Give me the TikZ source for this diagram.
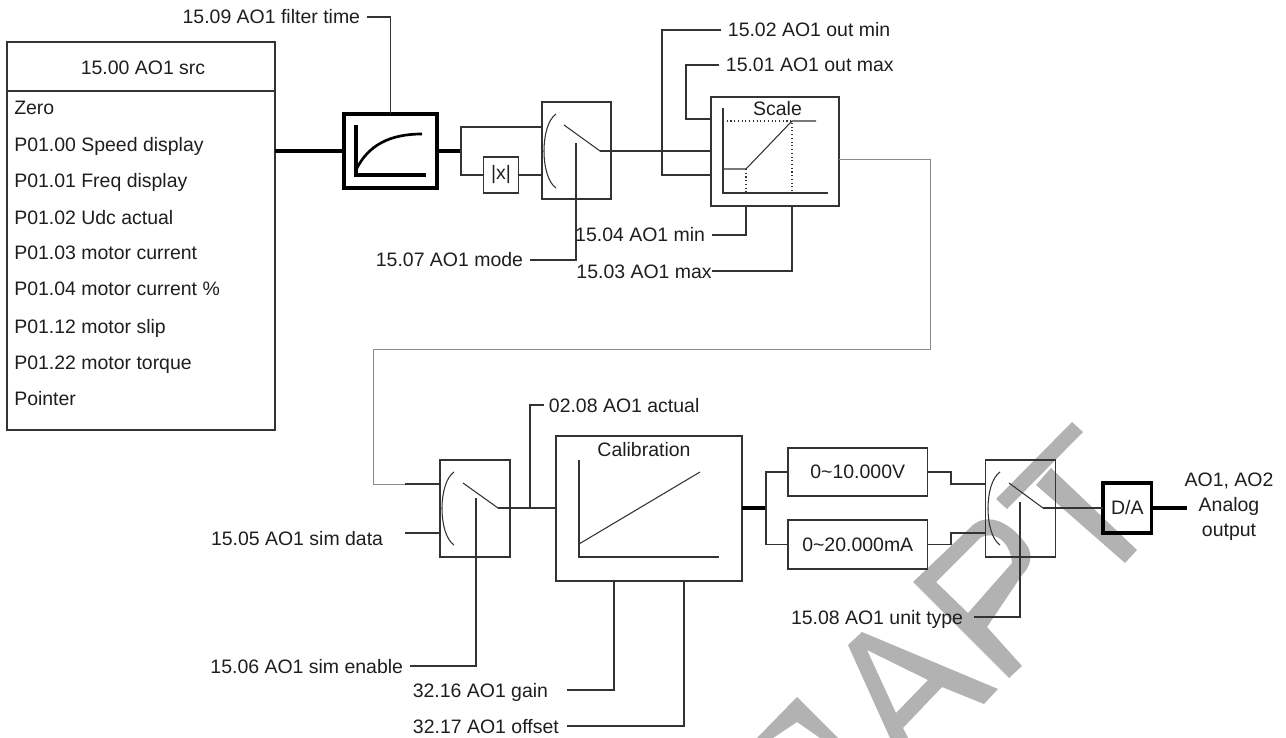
\documentclass[tikz,border=0pt]{standalone}
\usepackage{fontspec}
\setmainfont{Liberation Sans}
\usetikzlibrary{positioning,calc}
\definecolor{Ink}{HTML}{333333}
\definecolor{Type}{HTML}{1E1E1E}
\definecolor{Feed}{HTML}{8A8A8A}
\definecolor{Stamp}{HTML}{B2B2B2}
\newcommand{\labelfont}{\fontsize{14.6}{18.75}\selectfont}
\tikzset{
  box/.style={draw=Ink,line width=.9pt,inner sep=0pt,outer sep=0pt,text=Type,font=\labelfont},
  heavy/.style={draw=black,line width=2.3pt,inner sep=0pt,outer sep=0pt,text=Type,font=\labelfont},
  sig/.style={draw=Ink,line width=.8pt},
  bus/.style={draw=black,line width=2.3pt},
  feed/.style={draw=Feed,line width=.6pt},
  lbl/.style={font=\labelfont,text=Type,inner ysep=0pt,inner xsep=5pt,text height=10.5pt,text depth=0pt},
  item/.style={lbl,inner xsep=0pt,anchor=west},
  stamp/.style={fill=Stamp,even odd rule},
}
\begin{document}
\begin{tikzpicture}[x=.75pt,y=-.75pt]
\useasboundingbox (0,0) rectangle (1286,738);
% watermark
\fill[stamp] (1072,422)--(1083,432)--(1007,509)--(996,499)--cycle;
\fill[stamp] (1051,468)--(1137,550)--(1125,563)--(1036,485)--cycle;
\fill[stamp] (913,582)--(973,525) .. controls (987,513) and (1010,520) .. (1028,547) .. controls (1033,557) and (1030,567) .. (1022,575)--(987,627)--(1022,666)--(1009,678)--cycle
  (936,582)--(980,538) .. controls (993,530) and (1010,540) .. (1012,563)--(968,613)--cycle;
\fill[stamp] (848,645)--(890,738)--(908,738)--(903,728)--(942,687)--(984,704)--(998,689)--(862,632)--cycle
  (867,650)--(928,680)--(896,713)--cycle;
\fill[stamp] (757,738)--(797,697)--(838,738)--(820,738)--(797,722)--(773,738)--cycle;

% source list
\node[box,line width=1.1pt,minimum width=201pt,minimum height=291pt] (src) at (141,236) {};
\node[item,anchor=center] (srcTitle) at (143,68) {15.00 AO1 src};
\coordinate (srcRule) at (7,91);
\draw[sig] (srcRule) -- (src.east |- srcRule);
\node[item] (i0) at (14,108) {Zero};
\node[item] (i1) at (14,145) {P01.00 Speed display};
\node[item] (i2) at (14,181) {P01.01 Freq display};
\node[item] (i3) at (14,217) {P01.02 Udc actual};
\node[item] (i4) at (14,253) {P01.03 motor current};
\node[item] (i5) at (14,289) {P01.04 motor current \%};
\node[item] (i6) at (14,326) {P01.12 motor slip};
\node[item] (i7) at (14,362) {P01.22 motor torque};
\node[item] (i8) at (14,398) {Pointer};

% filter and selector
\node[heavy,minimum width=69.75pt,minimum height=55.5pt] (filt) at (390.5,151) {};
\draw[bus] (356,125) -- (356,175) -- (426,175);
\draw[line width=2pt] (356,170) .. controls (368,145) and (390,134) .. (422,134);
\node[box,minimum width=26.6pt,minimum height=27pt] (abs) at (501,175) {|x|};
\node[box,minimum width=51.75pt,minimum height=72.75pt] (swA) at (576.5,150.5) {};
\coordinate (forkA) at (461,151);
\coordinate (swAtop) at (542,127);
\coordinate (swAout) at (600,151);
\coordinate (swApin) at (576,143);
\draw[bus] (src.east |- filt.west) -- (filt.west);
\draw[bus] (filt.east) -- (forkA);
\draw[sig] (forkA) |- (swAtop);
\draw[sig] (forkA) |- (abs.west);
\draw[sig] (abs.east) -- (swA.west |- abs.east);
\draw[sig] (556,114) .. controls (540,125) and (540,177) .. (556,188);
\draw[sig] (564,125) -- (swAout);
\node[lbl,anchor=east] (lblTime) at (367,17) {15.09 AO1 filter time};
\draw[sig] (lblTime.east) -| (filt.north);
\node[lbl,anchor=east] (lblMode) at (530,260) {15.07 AO1 mode};
\draw[sig] (lblMode.east) -| (swApin);

% scale
\node[box,minimum width=96pt,minimum height=81.75pt] (scale) at (775,151.5) {};
\node[lbl,inner xsep=0pt] (scaleTitle) at (777.5,109) {Scale};
\draw[sig] (723,108) -- (723,193) -- (828,193);
\draw[sig] (723,169) -- (746,169) -- (792,121) -- (816,121);
\draw[sig,dotted] (723,121) -- (792,121) -- (792,193);
\draw[sig,dotted] (746,169) -- (746,193);
\coordinate (inMin) at (662,175);
\coordinate (inMax) at (686,119);
\coordinate (pinMin) at (746,206);
\coordinate (pinMax) at (792,206);
\draw[sig] (swAout) -- (scale.west |- swAout);
\node[lbl,anchor=west] (lblOutMin) at (721,30) {15.02 AO1 out min};
\node[lbl,anchor=west] (lblOutMax) at (719,65) {15.01 AO1 out max};
\draw[sig] (lblOutMin.west) -| (inMin) -- (scale.west |- inMin);
\draw[sig] (lblOutMax.west) -| (inMax) -- (scale.west |- inMax);
\node[lbl,anchor=east] (lblMin) at (712,235) {15.04 AO1 min};
\node[lbl,anchor=east,inner xsep=0pt] (lblMax) at (712,271) {15.03 AO1 max};
\draw[sig] (lblMin.east) -| (pinMin);
\draw[sig] (lblMax.east) -| (pinMax);

% simulation selector
\node[box,minimum width=52.5pt,minimum height=72.75pt] (swB) at (475,508.5) {};
\coordinate (scaleOut) at (839,159);
\coordinate (feedA) at (930,349);
\coordinate (feedB) at (373,484);
\coordinate (feedC) at (405,484);
\coordinate (inSim) at (405,533);
\coordinate (swBout) at (498,508);
\coordinate (swBpin) at (476,498);
\coordinate (tapAct) at (530,508);
\draw[feed] (scaleOut) -| (feedA) -| (feedB) -- (feedC);
\draw[sig] (feedC) -- (swB.west |- feedC);
\draw[sig] (inSim) -- (swB.west |- inSim);
\draw[sig] (454,472) .. controls (438,483) and (438,534) .. (454,545);
\draw[sig] (463,483) -- (swBout);
\node[lbl,anchor=east] (lblSim) at (390,538) {15.05 AO1 sim data};
\node[lbl,anchor=east] (lblEn) at (410,666) {15.06 AO1 sim enable};
\draw[sig] (lblEn.east) -| (swBpin);
\node[lbl,anchor=west,inner xsep=3.5pt] (lblAct) at (544,405) {02.08 AO1 actual};
\draw[sig] (tapAct) |- (lblAct.west);

% calibration
\node[box,minimum width=139.5pt,minimum height=108.75pt] (calib) at (649,508.5) {};
\node[lbl,inner xsep=0pt] (calibTitle) at (644,449) {Calibration};
\draw[sig] (579,460) -- (579,557) -- (719,557);
\draw[sig] (579,544) -- (700,472);
\draw[sig] (swBout) -- (calib.west |- swBout);
\coordinate (pinGain) at (614,581);
\coordinate (pinOff) at (684,581);
\node[lbl,anchor=east,inner xsep=14pt] (lblGain) at (567,690) {32.16 AO1 gain};
\node[lbl,anchor=east,inner xsep=6pt] (lblOff) at (567,726) {32.17 AO1 offset};
\draw[sig] (lblGain.east) -| (pinGain);
\draw[sig] (lblOff.east) -| (pinOff);

% output selection
\node[box,minimum width=104.6pt,minimum height=36pt] (volt) at (857.75,472) {0\textasciitilde10.000V};
\node[box,minimum width=104.6pt,minimum height=36.75pt] (curr) at (857.75,544.5) {0\textasciitilde20.000mA};
\node[box,minimum width=52.5pt,minimum height=72.75pt] (swC) at (1020.5,508.5) {};
\coordinate (forkB) at (766,508);
\coordinate (stepV) at (951,484);
\coordinate (stepI) at (951,533);
\coordinate (swCout) at (1043,508);
\coordinate (swCpin) at (1020,502);
\coordinate (aoEnd) at (1187,508);
\draw[bus] (calib.east |- forkB) -- (forkB);
\draw[sig] (forkB) |- (volt.west);
\draw[sig] (forkB) |- (curr.west);
\draw[sig] (volt.east) -| (stepV) -- (swC.west |- stepV);
\draw[sig] (curr.east) -| (stepI) -- (swC.west |- stepI);
\draw[sig] (1000,472) .. controls (984,483) and (984,534) .. (1000,545);
\draw[sig] (1009,483) -- (swCout);
\node[lbl,anchor=east,inner xsep=8pt] (lblUnit) at (974,617) {15.08 AO1 unit type};
\draw[sig] (lblUnit.east) -| (swCpin);
\node[heavy,minimum width=36.4pt,minimum height=37.5pt] (da) at (1127.25,508) {D/A};
\draw[sig] (swCout) -- (da.west);
\draw[bus] (da.east) -- (aoEnd);
\node[font=\labelfont,text=Type,align=center,inner sep=0pt] (ao) at (1229,507) {AO1, AO2\\Analog\\output};
\end{tikzpicture}
\end{document}
